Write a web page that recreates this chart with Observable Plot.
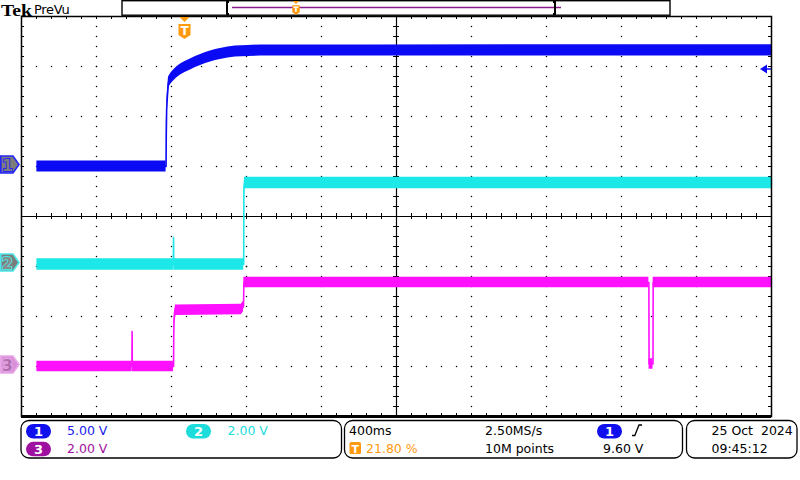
<!DOCTYPE html>
<html><head><meta charset="utf-8">
<script src="https://cdn.jsdelivr.net/npm/d3@7"></script>
<script src="https://cdn.jsdelivr.net/npm/@observablehq/plot@0.6"></script>
<style>
html,body{margin:0;padding:0;background:#fff;}
body{width:800px;height:480px;overflow:hidden;position:relative;font-family:"DejaVu Sans",sans-serif;}
#chart{position:absolute;left:0;top:0;}
#ui{position:absolute;left:0;top:0;}
</style></head><body>
<div id="chart"></div>
<script>
// ---- Scope settings ----
const timePerDiv = 0.4;          // 400 ms/div
const triggerPos = 0.218;        // 21.80 %
const ch1Scale = 5, ch2Scale = 2, ch3Scale = 2;   // V/div
const ch1Offset = 1.0, ch2Offset = -0.96, ch3Offset = -3.0; // div
const triggerLevel = 9.6;        // V on CH1

// ---- Channel 1 (blue) ----
const ch1Time  = [-0.79, -0.101, -0.100, -0.098, -0.094, -0.088, -0.075, -0.061, -0.045, -0.024, 0.0, 0.029, 0.056, 0.083, 0.11, 0.136, 0.163, 0.189, 0.229, 0.269, 0.336, 0.403, 1.0, 2.0, 3.128];
const ch1Volts = [0.0, 0.0, 3.0, 5.6, 7.0, 8.4, 8.8, 9.1, 9.4, 9.7, 9.95, 10.2, 10.45, 10.65, 10.85, 11.0, 11.15, 11.25, 11.4, 11.5, 11.55, 11.6, 11.6, 11.62, 11.62];
const ch1Noise = 0.56;
// ---- Channel 2 (cyan) ----
const ch2Time  = [-0.79, -0.062, -0.061, -0.060, 0.313, 0.314, 0.316, 0.318, 3.128];
const ch2Volts = [0.0, 0.0, 1.08, 0.0, 0.0, 2.9, 3.1, 3.26, 3.26];
const ch2Noise = 0.23;
// ---- Channel 3 (magenta) ----
const ch3Time  = [-0.79, -0.283, -0.282, -0.281, -0.061, -0.060, -0.058, -0.054, -0.050, 0.30, 0.312, 0.314, 0.318, 2.474, 2.475, 2.496, 2.497, 3.128];
const ch3Volts = [0.0, 0.0, 1.4, 0.0, 0.0, 1.3, 1.9, 2.1, 2.25, 2.28, 2.4, 3.36, 3.36, 3.36, 0.1, 0.1, 3.36, 3.36];
const ch3Noise = 0.21;

const colors = {ch1:"#0a0af5", ch2:"#1ce8e8", ch3:"#ff10ff"};

const T0 = -triggerPos*10*timePerDiv, T1 = T0 + 10*timePerDiv;
const minorT = timePerDiv/5;

function rows(ts, vs){ return ts.map((t,i)=>({t, v: vs[i]})); }
const ch1 = rows(ch1Time, ch1Volts), ch2 = rows(ch2Time, ch2Volts), ch3 = rows(ch3Time, ch3Volts);

// graticule helpers
const gridDots = [];
for (let k=1;k<10;k++){ if(k===5) continue; const t=T0+k*timePerDiv; for(let j=0;j<=40;j++) gridDots.push({t, y:-4+j*0.2}); }
for (let j=-3;j<=3;j++){ if(j===0) continue; for(let i=0;i<=50;i++) gridDots.push({t:T0+i*minorT, y:j}); }
const tMinor = d3.range(0,51).map(i=>T0+i*minorT);
const yMinor = d3.range(0,41).map(j=>-4+j*0.2);
const tc = T0 + 5*timePerDiv;
const dx = minorT*0.2; // ~3px
const dy = 0.06;

function trace(data, off, sc, noise, color){
  return [
    Plot.areaY(data, {x:"t", y1:d=>off+(d.v-noise)/sc, y2:d=>off+(d.v+noise)/sc, fill:color, curve:"linear"}),
    Plot.lineY(data, {x:"t", y:d=>off+d.v/sc, stroke:color, strokeWidth:1.6, curve:"linear"})
  ];
}

const chart = Plot.plot({
  width: 800, height: 480,
  marginLeft: 21, marginRight: 29, marginTop: 16, marginBottom: 64,
  x: {domain:[T0,T1], axis:null},
  y: {domain:[-4,4], axis:null},
  style: {background:"white", overflow:"visible"},
  marks: [
    Plot.dot(gridDots, {x:"t", y:"y", r:0.75, fill:"#000"}),
    Plot.ruleY([0], {stroke:"#000", strokeWidth:1.2}),
    Plot.ruleX([tc], {stroke:"#000", strokeWidth:1.2}),
    Plot.ruleX(tMinor, {x:d=>d, y1:-dy, y2:dy, stroke:"#000"}),
    Plot.ruleY(yMinor, {y:d=>d, x1:tc-dx, x2:tc+dx, stroke:"#000"}),
    Plot.ruleX(tMinor, {x:d=>d, y1:4, y2:4-dy, stroke:"#000"}),
    Plot.ruleX(tMinor, {x:d=>d, y1:-4, y2:-4+dy, stroke:"#000"}),
    Plot.ruleY(yMinor, {y:d=>d, x1:T0, x2:T0+dx, stroke:"#000"}),
    Plot.ruleY(yMinor, {y:d=>d, x1:T1, x2:T1-dx, stroke:"#000"}),
    ...trace(ch1, ch1Offset, ch1Scale, ch1Noise, colors.ch1),
    ...trace(ch2, ch2Offset, ch2Scale, ch2Noise, colors.ch2),
    ...trace(ch3, ch3Offset, ch3Scale, ch3Noise, colors.ch3),
    Plot.frame({stroke:"#000", strokeWidth:1.5}),
    Plot.ruleY([-4], {stroke:"#000", strokeWidth:3})
  ]
});
document.getElementById("chart").appendChild(chart);

const xs = chart.scale("x"), ys = chart.scale("y");

// ---- Scope UI overlay ----
const ui = d3.select("body").append("svg").attr("id","ui").attr("width",800).attr("height",480);
function txt(x,y,s,opt={}){
  return ui.append("text").attr("x",x).attr("y",y).text(s)
    .attr("font-family",opt.family||"DejaVu Sans").attr("font-size",opt.size||12.5)
    .attr("font-weight",opt.weight||"normal").attr("fill",opt.fill||"#000")
    .attr("text-anchor",opt.anchor||"start").attr("letter-spacing",opt.ls||0);
}
// top bar
txt(1,15.5,"Tek",{family:"Liberation Serif",size:17,weight:"bold"}).attr("textLength",31).attr("lengthAdjust","spacingAndGlyphs");
txt(34,13.5,"PreVu",{family:"DejaVu Sans",size:13,ls:-0.3});
ui.append("rect").attr("x",122).attr("y",0.7).attr("width",548).attr("height",14.5).attr("fill","none").attr("stroke","#000").attr("stroke-width",1.4);
ui.append("line").attr("x1",232).attr("x2",561).attr("y1",7.5).attr("y2",7.5).attr("stroke","#8a1a8a").attr("stroke-width",1.3);
ui.append("path").attr("d","M229,2 H227 V14 H229").attr("fill","none").attr("stroke","#000").attr("stroke-width",2);
ui.append("path").attr("d","M553,2 H555 V14 H553").attr("fill","none").attr("stroke","#000").attr("stroke-width",2);
function tMarker(cx, top, s){
  const g = ui.append("g");
  g.append("path").attr("d",`M${cx-5*s},${top} H${cx+5*s} L${cx},${top+5*s} Z`).attr("fill","#ff9a10");
  g.append("path").attr("d",`M${cx-6*s},${top+7*s} H${cx+6*s} V${top+18*s} L${cx},${top+22*s} L${cx-6*s},${top+18*s} Z`).attr("fill","#ff9a10");
  g.append("text").attr("x",cx).attr("y",top+17.5*s).attr("text-anchor","middle").attr("font-family","DejaVu Sans").attr("font-weight","bold").attr("font-size",12*s).attr("fill","#fff").text("T");
}
tMarker(296, 1, 0.62);
tMarker(xs.apply(0), 17, 1);

// trigger level arrow (right)
const yTrig = ys.apply(ch1Offset + triggerLevel/ch1Scale) - 1;
ui.append("path").attr("d",`M760,${yTrig} L767,${yTrig-4.5} V${yTrig+4.5} Z`).attr("fill",colors.ch1);
ui.append("line").attr("x1",765).attr("x2",771).attr("y1",yTrig).attr("y2",yTrig).attr("stroke",colors.ch1).attr("stroke-width",1.5);

// channel markers (left)
function chMarker(label, off, fill, stroke, tfill){
  const y = ys.apply(off) - 1.5;
  ui.append("path").attr("d",`M0.8,${y-8.5} H13 L19,${y} L13,${y+8.5} H0.8 Z`).attr("fill",fill).attr("stroke",stroke).attr("stroke-width",1.6);
  ui.append("text").attr("x",7.5).attr("y",y+6).attr("text-anchor","middle").attr("font-family","DejaVu Sans").attr("font-weight","bold").attr("font-size",15.5).attr("fill",tfill).attr("stroke",stroke).attr("stroke-width",1.8).attr("paint-order","stroke").text(label);
}
chMarker("1", ch1Offset, "#7c7c7c", "#2424ff", "#7c7c7c");
chMarker("2", ch2Offset, "#7c7c7c", "#4ce8e8", "#8a8a8a");
chMarker("3", ch3Offset, "#d890d8", "#e8a8e8", "#b070b0");

// bottom boxes
function box(x,w){ ui.append("rect").attr("x",x).attr("y",420.5).attr("width",w).attr("height",37.5).attr("rx",8).attr("fill","none").attr("stroke","#000").attr("stroke-width",1.3); }
box(21,320.5); box(344.5,338); box(686.5,110.5);
function badge(x,y,label,fill){
  ui.append("rect").attr("x",x).attr("y",y).attr("width",25).attr("height",14.5).attr("rx",7.2).attr("fill",fill);
  ui.append("text").attr("x",x+12.5).attr("y",y+12).attr("text-anchor","middle").attr("font-family","DejaVu Sans").attr("font-weight","bold").attr("font-size",13).attr("fill","#fff").text(label);
}
badge(26,424,"1","#1010ee"); txt(67,435,"5.00 V",{fill:"#2020ee"});
badge(186,424,"2","#1cdcdc"); txt(227.5,435,"2.00 V",{fill:"#1cdcdc"});
badge(26,441.8,"3","#a010a0"); txt(67,453,"2.00 V",{fill:"#a010a0"});

txt(349,435,"400ms");
ui.append("rect").attr("x",349.5).attr("y",442).attr("width",11.5).attr("height",12).attr("rx",1.5).attr("fill","#ff9a10");
ui.append("text").attr("x",355.2).attr("y",452.5).attr("text-anchor","middle").attr("font-family","DejaVu Sans").attr("font-weight","bold").attr("font-size",11).attr("fill","#fff").text("T");
txt(366,453,"21.80 %",{fill:"#ff9a10"});
txt(485,435,"2.50MS/s");
txt(485,453,"10M points");
badge(597,424,"1","#1010ee");
ui.append("path").attr("d","M632,435.5 H634.8 L639,425 H642").attr("fill","none").attr("stroke","#000").attr("stroke-width",1.3);
txt(603,453,"9.60 V");
txt(711.5,435,"25 Oct  2024").style("white-space","pre");
txt(711.5,453,"09:45:12");
</script>
</body></html>
